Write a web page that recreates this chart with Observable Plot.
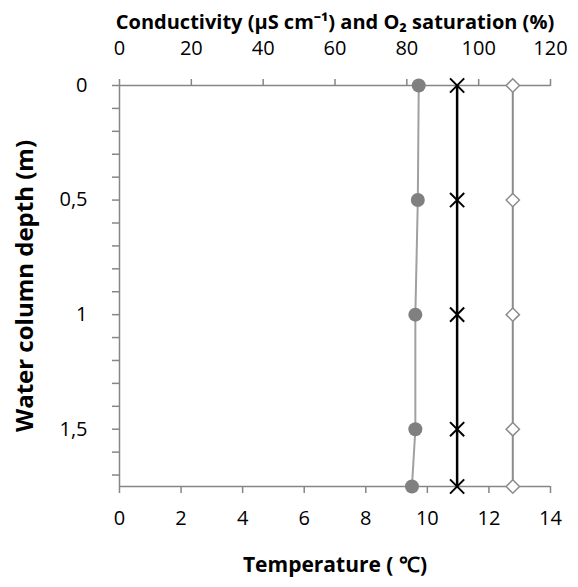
<!DOCTYPE html>
<html><head><meta charset="utf-8">
<script src="https://cdn.jsdelivr.net/npm/d3@7"></script>
<script src="https://cdn.jsdelivr.net/npm/@observablehq/plot@0.6"></script>
<style>
body{margin:0;background:#fff}
svg{font-family:"Open Sans",sans-serif}
</style>
</head><body><div id="chart"></div>
<script>
const depth = [0, 0.5, 1, 1.5, 1.75];
const temperature = [9.72, 9.69, 9.61, 9.61, 9.5];      // bottom axis, grey circles
const o2Saturation = [94, 94, 94, 94, 94];               // top axis, black crosses
const conductivity = [109.5, 109.5, 109.5, 109.5, 109.5]; // top axis, open diamonds
const topTicks = [0, 20, 40, 60, 80, 100, 120];
const bottomTicks = [0, 2, 4, 6, 8, 10, 12, 14];
const depthTicks = [0, 0.5, 1, 1.5];
const depthMinor = [0.1,0.2,0.3,0.4,0.6,0.7,0.8,0.9,1.1,1.2,1.3,1.4,1.6,1.7];

const K = 14 / 120; // map top-axis units onto the temperature scale
const rows = depth.map((d, i) => ({
  depth: d,
  temp: temperature[i],
  o2: o2Saturation[i] * K,
  cond: conductivity[i] * K
}));

const axisColor = "#868686";
const F = "'Open Sans', sans-serif";
const chart = Plot.plot({
  width: 578, height: 587,
  marginTop: 85, marginBottom: 101, marginLeft: 119, marginRight: 28,
  x: {domain: [0, 14]},
  y: {domain: [0, 1.75], reverse: true},
  style: {fontFamily: F, fontSize: "20px", color: "#000", background: "#fff"},
  marks: [
    Plot.ruleX([0], {stroke: axisColor, strokeWidth: 1.5}),
    Plot.ruleY([0], {stroke: axisColor, strokeWidth: 1.5}),
    Plot.ruleY([1.75], {stroke: axisColor, strokeWidth: 1.5}),
    Plot.axisX(bottomTicks, {anchor: "bottom", tickSize: 7, tickPadding: 17, stroke: axisColor, strokeWidth: 1.5, fill: "#000", fontSize: 20, label: null}),
    Plot.axisX(topTicks.map(v => v * K), {anchor: "top", tickSize: 7, tickPadding: 24, stroke: axisColor, strokeWidth: 1.5, fill: "#000", fontSize: 20, tickFormat: d => String(Math.round(d / K)), label: null}),
    Plot.axisY(depthTicks, {anchor: "left", tickSize: 7, tickPadding: 25, stroke: axisColor, strokeWidth: 1.5, fill: "#000", fontSize: 20, tickFormat: d => String(d).replace(".", ","), label: null}),
    Plot.axisY(depthMinor, {anchor: "left", tickSize: 7, stroke: axisColor, strokeWidth: 1.5, tickFormat: () => "", label: null}),
    Plot.line(rows, {x: "temp", y: "depth", stroke: "#a0a0a0", strokeWidth: 2}),
    Plot.line(rows, {x: "o2", y: "depth", stroke: "#000", strokeWidth: 2.5}),
    Plot.line(rows, {x: "cond", y: "depth", stroke: "#8c8c8c", strokeWidth: 2}),
    Plot.dot(rows, {x: "temp", y: "depth", r: 7, fill: "#808080", stroke: "none"}),
    Plot.dot(rows, {x: "o2", y: "depth", symbol: "times", r: 6.5, stroke: "#000", strokeWidth: 2}),
    Plot.dot(rows, {x: "cond", y: "depth", symbol: "diamond2", r: 6, stroke: "#8c8c8c", fill: "#fff", strokeWidth: 1.5}),
    Plot.text(["Conductivity (µS cm⁻¹) and O₂ saturation (%)"], {frameAnchor: "top", dy: -71, fontWeight: "bold", fontSize: 20, fill: "#000"}),
    Plot.text(["Temperature ( ℃)"], {frameAnchor: "bottom", dy: 85, fontWeight: "bold", fontSize: 21, fill: "#000"}),
    Plot.text(["Water column depth (m)"], {frameAnchor: "left", textAnchor: "middle", dx: -94, rotate: -90, fontWeight: "bold", fontSize: 24, fill: "#000"})
  ]
});
document.getElementById("chart").appendChild(chart);
</script>
</body></html>
